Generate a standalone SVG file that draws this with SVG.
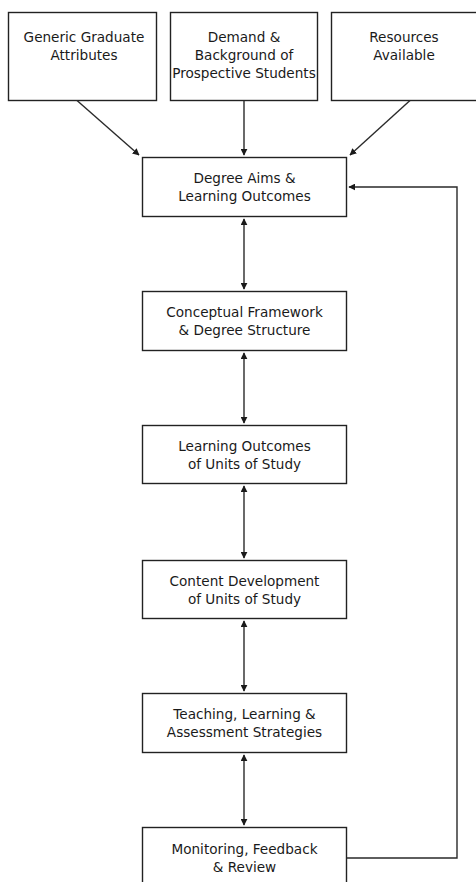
<svg xmlns="http://www.w3.org/2000/svg" width="476" height="882" viewBox="0 0 476 882">
  <style>
    .box { fill: #ffffff; stroke: #222222; stroke-width: 1.4; }
    .lbl { font-family: "DejaVu Sans", "Liberation Sans", sans-serif; font-size: 13.6px; fill: #1a1a1a; text-anchor: middle; }
    .wire { fill: none; stroke: #2a2a2a; stroke-width: 1.4; }
  </style>
  <defs>
    <marker id="head" viewBox="0 0 10 10" refX="9" refY="5" markerWidth="7" markerHeight="7" markerUnits="userSpaceOnUse" orient="auto-start-reverse">
      <path d="M0,0 L10,5 L0,10 z" fill="#1a1a1a"/>
    </marker>
  </defs>
  <rect width="476" height="882" fill="#ffffff"/>

  <!-- input boxes -->
  <g id="generic-attributes">
    <rect class="box" x="8.5" y="12.5" width="148" height="88"/>
    <text class="lbl" x="84" y="42">Generic Graduate</text>
    <text class="lbl" x="84" y="60">Attributes</text>
  </g>
  <g id="demand-background">
    <rect class="box" x="170.5" y="12.5" width="147" height="88"/>
    <text class="lbl" x="244" y="42">Demand &amp;</text>
    <text class="lbl" x="244" y="60">Background of</text>
    <text class="lbl" x="244" y="78">Prospective Students</text>
  </g>
  <g id="resources">
    <rect class="box" x="331.5" y="12.5" width="150" height="88"/>
    <text class="lbl" x="404" y="42">Resources</text>
    <text class="lbl" x="404" y="60">Available</text>
  </g>

  <!-- main chain -->
  <g id="degree-aims">
    <rect class="box" x="142.5" y="157.5" width="204" height="59"/>
    <text class="lbl" x="244.5" y="183">Degree Aims &amp;</text>
    <text class="lbl" x="244.5" y="201">Learning Outcomes</text>
  </g>
  <g id="conceptual-framework">
    <rect class="box" x="142.5" y="291.5" width="204" height="59"/>
    <text class="lbl" x="244.5" y="317">Conceptual Framework</text>
    <text class="lbl" x="244.5" y="335">&amp; Degree Structure</text>
  </g>
  <g id="unit-outcomes">
    <rect class="box" x="142.5" y="425.5" width="204" height="58"/>
    <text class="lbl" x="244.5" y="451">Learning Outcomes</text>
    <text class="lbl" x="244.5" y="469">of Units of Study</text>
  </g>
  <g id="content-development">
    <rect class="box" x="142.5" y="560.5" width="204" height="58"/>
    <text class="lbl" x="244.5" y="586">Content Development</text>
    <text class="lbl" x="244.5" y="604">of Units of Study</text>
  </g>
  <g id="teaching-strategies">
    <rect class="box" x="142.5" y="693.5" width="204" height="59"/>
    <text class="lbl" x="244.5" y="719">Teaching, Learning &amp;</text>
    <text class="lbl" x="244.5" y="737">Assessment Strategies</text>
  </g>
  <g id="monitoring-review">
    <rect class="box" x="142.5" y="827.5" width="204" height="70"/>
    <text class="lbl" x="244.5" y="854">Monitoring, Feedback</text>
    <text class="lbl" x="244.5" y="872">&amp; Review</text>
  </g>

  <!-- connectors -->
  <g id="connectors">
    <line class="wire" x1="77" y1="100.5" x2="139" y2="155" marker-end="url(#head)"/>
    <line class="wire" x1="244" y1="100.5" x2="244" y2="155" marker-end="url(#head)"/>
    <line class="wire" x1="410" y1="100.5" x2="350" y2="155" marker-end="url(#head)"/>

    <line class="wire" x1="244" y1="219" x2="244" y2="289" marker-start="url(#head)" marker-end="url(#head)"/>
    <line class="wire" x1="244" y1="353" x2="244" y2="423" marker-start="url(#head)" marker-end="url(#head)"/>
    <line class="wire" x1="244" y1="486" x2="244" y2="558" marker-start="url(#head)" marker-end="url(#head)"/>
    <line class="wire" x1="244" y1="621" x2="244" y2="691" marker-start="url(#head)" marker-end="url(#head)"/>
    <line class="wire" x1="244" y1="755" x2="244" y2="825" marker-start="url(#head)" marker-end="url(#head)"/>

    <polyline class="wire" points="347,858 457,858 457,187 349,187" marker-end="url(#head)"/>
  </g>
</svg>
